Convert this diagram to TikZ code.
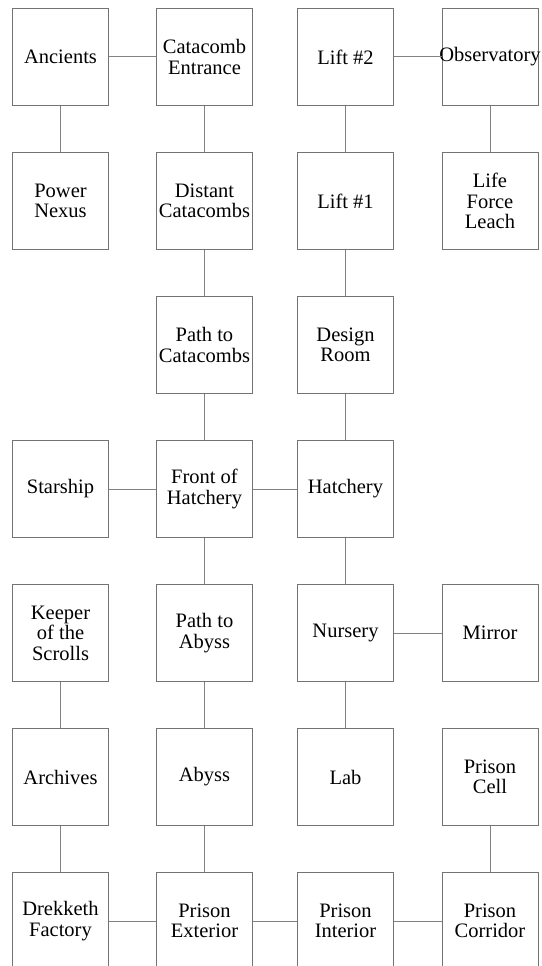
\documentclass[tikz,border=0pt]{standalone}
\usepackage{fontspec}
\setmainfont{Liberation Serif}
\usepackage{tikz}
\usetikzlibrary{positioning}
\definecolor{boxgray}{RGB}{115,115,115}
\definecolor{linkgray}{RGB}{130,130,130}
\tikzset{
  roombox/.style={draw=boxgray, line width=1pt, fill=white, minimum width=96pt,
    minimum height=97pt, inner sep=1pt, align=center, text=black,
    font=\fontsize{20.5}{20.5}\selectfont},
  roomlink/.style={draw=linkgray, line width=1pt}
}
\begin{document}
\begin{tikzpicture}[x=1pt, y=-1pt]
  \clip (0,0) rectangle (541,966);
  \fill[white] (0,0) rectangle (541,966);
  % row 1
  \node[roombox] (anc) at (60.5,57) {Ancients};
  \node[roombox] (cent) at (204.5,57) {Catacomb\\Entrance};
  \node[roombox] (lift2) at (345.5,57) {Lift \#2};
  \node[roombox] (obs) at (490,57) {\makebox[0pt]{Observatory}};
  % row 2
  \node[roombox] (pnex) at (60.5,201) {Power\\Nexus};
  \node[roombox] (dcat) at (204.5,201) {Distant\\Catacombs};
  \node[roombox] (lift1) at (345.5,201) {Lift \#1};
  \node[roombox] (leach) at (490,201) {Life\\Force\\Leach};
  % row 3
  \node[roombox] (pcat) at (204.5,345) {Path to\\Catacombs};
  \node[roombox] (design) at (345.5,345) {Design\\Room};
  % row 4
  \node[roombox] (ship) at (60.5,489) {Starship};
  \node[roombox] (fhat) at (204.5,489) {Front of\\Hatchery};
  \node[roombox] (hat) at (345.5,489) {Hatchery};
  % row 5
  \node[roombox] (keeper) at (60.5,633) {Keeper\\of the\\Scrolls};
  \node[roombox] (pabyss) at (204.5,633) {Path to\\Abyss};
  \node[roombox] (nurs) at (345.5,633) {Nursery};
  \node[roombox] (mirror) at (490,633) {Mirror};
  % row 6
  \node[roombox] (arch) at (60.5,777) {Archives};
  \node[roombox] (abyss) at (204.5,777) {Abyss};
  \node[roombox] (lab) at (345.5,777) {Lab};
  \node[roombox] (pcell) at (490,777) {Prison\\Cell};
  % row 7
  \node[roombox] (drek) at (60.5,921) {Drekketh\\Factory};
  \node[roombox] (pext) at (204.5,921) {Prison\\Exterior};
  \node[roombox] (pint) at (345.5,921) {Prison\\Interior};
  \node[roombox] (pcor) at (490,921) {Prison\\Corridor};
  % links
  \draw[roomlink] (anc) -- (cent);
  \draw[roomlink] (lift2) -- (obs);
  \draw[roomlink] (anc) -- (pnex);
  \draw[roomlink] (cent) -- (dcat);
  \draw[roomlink] (lift2) -- (lift1);
  \draw[roomlink] (obs) -- (leach);
  \draw[roomlink] (dcat) -- (pcat);
  \draw[roomlink] (lift1) -- (design);
  \draw[roomlink] (pcat) -- (fhat);
  \draw[roomlink] (design) -- (hat);
  \draw[roomlink] (ship) -- (fhat);
  \draw[roomlink] (fhat) -- (hat);
  \draw[roomlink] (fhat) -- (pabyss);
  \draw[roomlink] (hat) -- (nurs);
  \draw[roomlink] (nurs) -- (mirror);
  \draw[roomlink] (keeper) -- (arch);
  \draw[roomlink] (pabyss) -- (abyss);
  \draw[roomlink] (nurs) -- (lab);
  \draw[roomlink] (arch) -- (drek);
  \draw[roomlink] (abyss) -- (pext);
  \draw[roomlink] (pcell) -- (pcor);
  \draw[roomlink] (drek) -- (pext);
  \draw[roomlink] (pext) -- (pint);
  \draw[roomlink] (pint) -- (pcor);
\end{tikzpicture}
\end{document}
